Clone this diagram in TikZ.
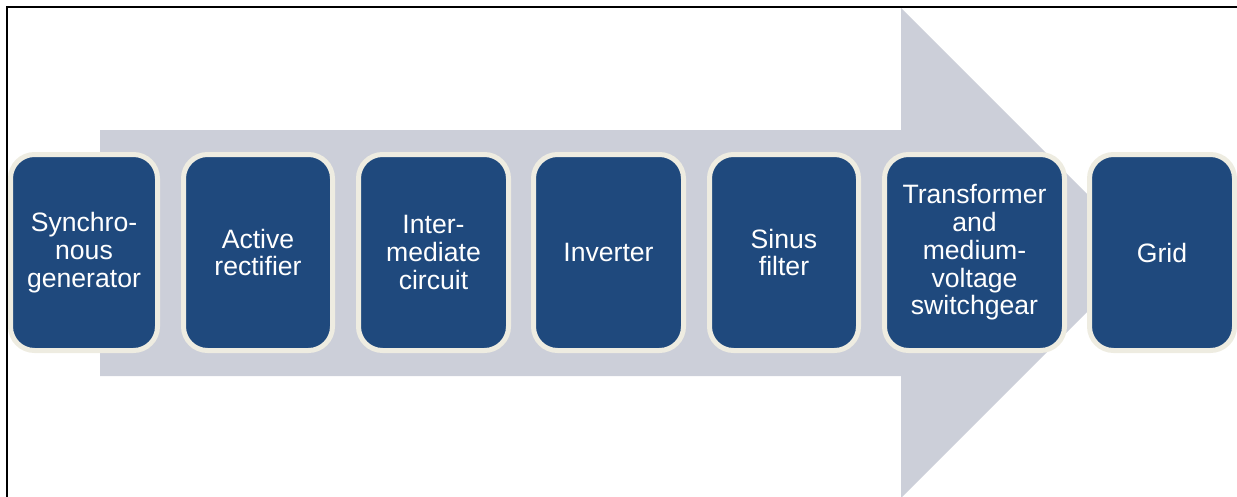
\documentclass[tikz,border=0pt]{standalone}
\usepackage{fontspec}
\setmainfont{Liberation Sans}
\definecolor{boxblue}{HTML}{1F497D}
\definecolor{boxcream}{HTML}{EEECE1}
\definecolor{arrowgray}{HTML}{CCCFD9}
\begin{document}
\begin{tikzpicture}[x=1pt,y=-1pt,
  stagebox/.style={draw=boxcream, line width=5pt, fill=boxblue, rounded corners=24pt,
    minimum height=196pt, text=white, align=center, inner sep=1pt,
    font=\fontsize{26.6}{27.8}\selectfont},
  frameline/.style={draw=black, line width=1.6pt}]
\useasboundingbox (0,0) rectangle (1237,496);
\begin{scope}
\clip (0,0) rectangle (1237,496);
% big arrow
\fill[arrowgray] (100,130) -- (901,130) -- (901,8) -- (1146,253) -- (901,498) -- (901,376) -- (100,376) -- cycle;
% frame
\draw[frameline] (7,497) -- (7,7) -- (1240,7);
% stages
\node[stagebox, minimum width=147pt] (s1) at (84,252.5) {Synchro-\\nous\\generator};
\node[stagebox, minimum width=149pt] (s2) at (258,252.5) {Active\\rectifier};
\node[stagebox, minimum width=150pt] (s3) at (433.5,252.5) {Inter-\\mediate\\circuit};
\node[stagebox, minimum width=150pt] (s4) at (608.5,252.5) {Inverter};
\node[stagebox, minimum width=149pt] (s5) at (784,252.5) {Sinus\\filter};
\node[stagebox, minimum width=180pt] (s6) at (974.5,252.5) {Transformer\\and\\medium-\\voltage\\switchgear};
\node[stagebox, minimum width=145pt] (s7) at (1162,252.5) {Grid};
\end{scope}
\end{tikzpicture}
\end{document}
